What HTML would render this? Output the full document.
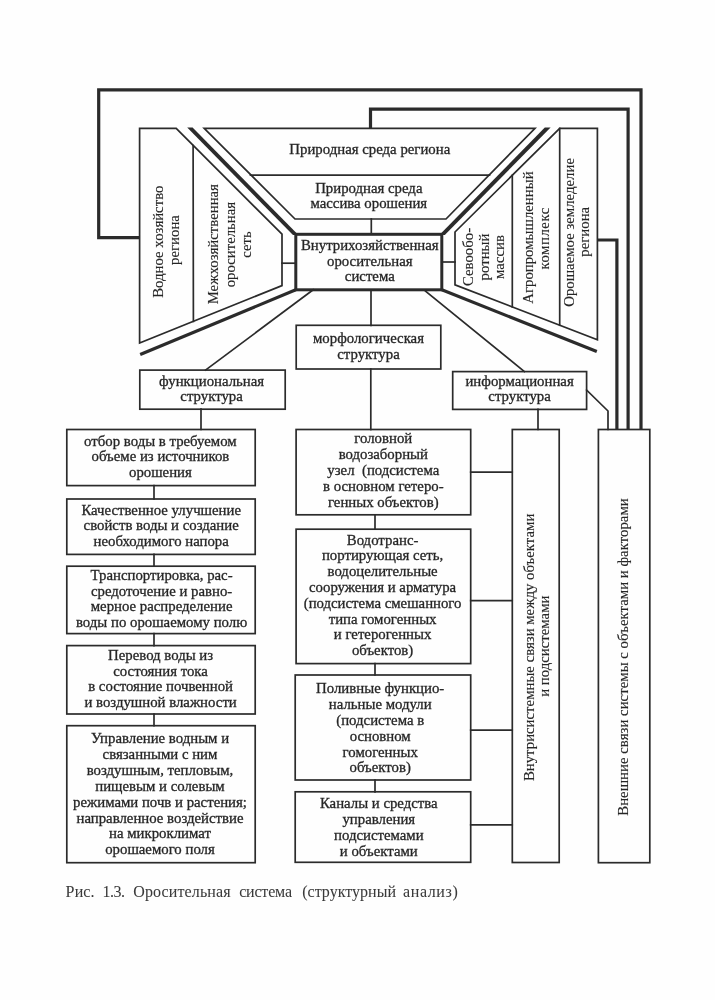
<!DOCTYPE html>
<html><head><meta charset="utf-8"><style>
html,body{margin:0;padding:0;background:#fefefe;}
body{width:715px;height:1000px;overflow:hidden;}
svg{display:block;filter:blur(0.3px);}
text{font-family:"Liberation Serif", serif;fill:#262626;stroke:#262626;stroke-width:0.3px;}
.v{stroke-width:0.12px;}
.cap{fill:#3a3a3a;stroke:#3a3a3a;stroke-width:0.05px;}
</style></head><body>
<svg width="715" height="1000" viewBox="0 0 715 1000">
<rect width="715" height="1000" fill="#fefefe"/>
<polyline points="139.2,237.7 98.7,237.7 98.7,89.9 641,89.9 641,429.5" fill="none" stroke="#2b2b2b" stroke-width="3.2" stroke-linejoin="miter" stroke-linecap="butt"/>
<polyline points="370.5,128 370.5,109.2 628.1,109.2 628.1,429.5" fill="none" stroke="#2b2b2b" stroke-width="3.2" stroke-linejoin="miter" stroke-linecap="butt"/>
<polyline points="597.0,240 616.9,240 616.9,429.5" fill="none" stroke="#2b2b2b" stroke-width="3.2" stroke-linejoin="miter" stroke-linecap="butt"/>
<polygon points="204.2,128.3 535,128.3 446,219 295,219" fill="none" stroke="#2b2b2b" stroke-width="1.7" stroke-linejoin="miter"/>
<polyline points="250.5,175.2 489.5,175.2" fill="none" stroke="#2b2b2b" stroke-width="1.7" stroke-linejoin="miter" stroke-linecap="square"/>
<polyline points="371.3,219 371.3,234" fill="none" stroke="#2b2b2b" stroke-width="1.7" stroke-linejoin="miter" stroke-linecap="square"/>
<polygon points="187.2,127.6 192.6,127.6 298.4,235 293,235" fill="#2b2b2b"/>
<polygon points="544.8,127.6 550.6,127.6 444.8,235 439.4,235" fill="#2b2b2b"/>
<polyline points="295.8,289.8 140.2,354.6" fill="none" stroke="#2b2b2b" stroke-width="3.2" stroke-linejoin="miter" stroke-linecap="butt"/>
<polyline points="441.8,289.8 596.8,351.6" fill="none" stroke="#2b2b2b" stroke-width="3.2" stroke-linejoin="miter" stroke-linecap="butt"/>
<rect x="295.8" y="234.3" width="146.00" height="55.50" fill="none" stroke="#2b2b2b" stroke-width="3"/>
<text x="369.8" y="250.1" font-size="14.8" text-anchor="middle">Внутрихозяйственная</text>
<text x="369.8" y="265.6" font-size="14.8" text-anchor="middle">оросительная</text>
<text x="369.8" y="281.1" font-size="14.8" text-anchor="middle">система</text>
<polygon points="139.6,128.4 176.2,128.4 282,234.2 282,285.6 139.6,343" fill="none" stroke="#2b2b2b" stroke-width="1.7" stroke-linejoin="miter"/>
<polyline points="193.1,145.6 193.4,321.3" fill="none" stroke="#2b2b2b" stroke-width="1.7" stroke-linejoin="miter" stroke-linecap="square"/>
<polyline points="282,263.2 295.8,263.2" fill="none" stroke="#2b2b2b" stroke-width="1.7" stroke-linejoin="miter" stroke-linecap="square"/>
<text transform="translate(162.8,241.7) rotate(-90)" font-size="14.8" text-anchor="middle" class="v">Водное хозяйство</text>
<text transform="translate(179,240) rotate(-90)" font-size="14.8" text-anchor="middle" class="v">региона</text>
<text transform="translate(218,244.2) rotate(-90)" font-size="14.8" text-anchor="middle" class="v">Межхозяйственная</text>
<text transform="translate(234.5,244.6) rotate(-90)" font-size="14.8" text-anchor="middle" class="v">оросительная</text>
<text transform="translate(250.8,244.6) rotate(-90)" font-size="14.8" text-anchor="middle" class="v">сеть</text>
<polygon points="559.7,128.4 597.4,128.4 597.4,339.8 455,284.8 455,232" fill="none" stroke="#2b2b2b" stroke-width="1.7" stroke-linejoin="miter"/>
<polyline points="512.3,175.3 512.3,306.9" fill="none" stroke="#2b2b2b" stroke-width="1.7" stroke-linejoin="miter" stroke-linecap="square"/>
<polyline points="559.7,128.4 559.7,325.2" fill="none" stroke="#2b2b2b" stroke-width="1.7" stroke-linejoin="miter" stroke-linecap="square"/>
<polyline points="441.8,262 455,262" fill="none" stroke="#2b2b2b" stroke-width="1.7" stroke-linejoin="miter" stroke-linecap="square"/>
<text transform="translate(473,257) rotate(-90)" font-size="14.8" text-anchor="middle" class="v">Севообо-</text>
<text transform="translate(488.6,257) rotate(-90)" font-size="14.8" text-anchor="middle" class="v">ротный</text>
<text transform="translate(504.3,257) rotate(-90)" font-size="14.8" text-anchor="middle" class="v">массив</text>
<text transform="translate(533,237.6) rotate(-90)" font-size="14.8" text-anchor="middle" class="v">Агропромышленный</text>
<text transform="translate(548.6,238.6) rotate(-90)" font-size="14.8" text-anchor="middle" class="v" textLength="62" lengthAdjust="spacing">комплекс</text>
<text transform="translate(574.3,232.4) rotate(-90)" font-size="14.8" text-anchor="middle" class="v">Орошаемое земледелие</text>
<text transform="translate(588.6,231.8) rotate(-90)" font-size="14.8" text-anchor="middle" class="v">региона</text>
<text x="369.8" y="154.3" font-size="14.8" text-anchor="middle">Природная среда региона</text>
<text x="368.8" y="193.2" font-size="14.8" text-anchor="middle">Природная среда</text>
<text x="368.8" y="207.8" font-size="14.8" text-anchor="middle">массива орошения</text>
<polyline points="371,289.8 371,325.3" fill="none" stroke="#2b2b2b" stroke-width="1.7" stroke-linejoin="miter" stroke-linecap="square"/>
<rect x="296.2" y="325.3" width="144.60" height="43.70" fill="none" stroke="#2b2b2b" stroke-width="1.7"/>
<text x="368.5" y="343.0" font-size="14.8" text-anchor="middle">морфологическая</text>
<text x="368.5" y="358.5" font-size="14.8" text-anchor="middle">структура</text>
<polyline points="313.2,289.8 205.5,370.1" fill="none" stroke="#2b2b2b" stroke-width="1.7" stroke-linejoin="miter" stroke-linecap="square"/>
<rect x="139.8" y="370.1" width="145.40" height="39.10" fill="none" stroke="#2b2b2b" stroke-width="1.7"/>
<text x="211.6" y="385.8" font-size="14.8" text-anchor="middle">функциональная</text>
<text x="211.6" y="401.1" font-size="14.8" text-anchor="middle">структура</text>
<polyline points="425.5,291.2 524.4,371.6" fill="none" stroke="#2b2b2b" stroke-width="1.7" stroke-linejoin="miter" stroke-linecap="square"/>
<rect x="452.7" y="371.6" width="133.90" height="37.80" fill="none" stroke="#2b2b2b" stroke-width="1.7"/>
<text x="519.6" y="385.9" font-size="14.8" text-anchor="middle">информационная</text>
<text x="519.6" y="400.9" font-size="14.8" text-anchor="middle">структура</text>
<polyline points="201,409.2 201,429.5" fill="none" stroke="#2b2b2b" stroke-width="1.7" stroke-linejoin="miter" stroke-linecap="square"/>
<rect x="66.8" y="429.5" width="188.40" height="56.10" fill="none" stroke="#2b2b2b" stroke-width="1.7"/>
<text x="160.4" y="446.0" font-size="14.8" text-anchor="middle">отбор воды в требуемом</text>
<text x="160.4" y="461.25" font-size="14.8" text-anchor="middle">объеме из источников</text>
<text x="160.4" y="476.5" font-size="14.8" text-anchor="middle">орошения</text>
<rect x="66.8" y="499" width="188.40" height="55.40" fill="none" stroke="#2b2b2b" stroke-width="1.7"/>
<text x="161.2" y="514.8" font-size="14.8" text-anchor="middle">Качественное улучшение</text>
<text x="161.2" y="530.2" font-size="14.8" text-anchor="middle">свойств воды и создание</text>
<text x="161.2" y="545.6" font-size="14.8" text-anchor="middle">необходимого напора</text>
<polyline points="154,485.6 154,499" fill="none" stroke="#2b2b2b" stroke-width="1.7" stroke-linejoin="miter" stroke-linecap="square"/>
<rect x="66.8" y="566.2" width="188.40" height="67.40" fill="none" stroke="#2b2b2b" stroke-width="1.7"/>
<text x="161.6" y="580.1" font-size="14.8" text-anchor="middle">Транспортировка, рас-</text>
<text x="161.6" y="595.77" font-size="14.8" text-anchor="middle">средоточение и равно-</text>
<text x="161.6" y="611.44" font-size="14.8" text-anchor="middle">мерное распределение</text>
<text x="161.6" y="627.11" font-size="14.8" text-anchor="middle">воды по орошаемому полю</text>
<polyline points="154,554.4 154,566.2" fill="none" stroke="#2b2b2b" stroke-width="1.7" stroke-linejoin="miter" stroke-linecap="square"/>
<rect x="66.8" y="645.6" width="188.40" height="68.40" fill="none" stroke="#2b2b2b" stroke-width="1.7"/>
<text x="160.6" y="660.2" font-size="14.8" text-anchor="middle">Перевод воды из</text>
<text x="160.6" y="675.65" font-size="14.8" text-anchor="middle">состояния тока</text>
<text x="160.6" y="691.1" font-size="14.8" text-anchor="middle">в состояние почвенной</text>
<text x="160.6" y="706.55" font-size="14.8" text-anchor="middle">и воздушной влажности</text>
<polyline points="154,633.6 154,645.6" fill="none" stroke="#2b2b2b" stroke-width="1.7" stroke-linejoin="miter" stroke-linecap="square"/>
<rect x="66.8" y="725.7" width="188.40" height="137.00" fill="none" stroke="#2b2b2b" stroke-width="1.7"/>
<text x="160.0" y="742.9" font-size="14.8" text-anchor="middle">Управление водным и</text>
<text x="160.0" y="758.82" font-size="14.8" text-anchor="middle">связанными с ним</text>
<text x="160.0" y="774.74" font-size="14.8" text-anchor="middle">воздушным, тепловым,</text>
<text x="160.0" y="790.66" font-size="14.8" text-anchor="middle">пищевым и солевым</text>
<text x="160.0" y="806.58" font-size="14.8" text-anchor="middle">режимами почв и растения;</text>
<text x="160.0" y="822.5" font-size="14.8" text-anchor="middle">направленное воздействие</text>
<text x="160.0" y="838.42" font-size="14.8" text-anchor="middle">на микроклимат</text>
<text x="160.0" y="854.34" font-size="14.8" text-anchor="middle">орошаемого поля</text>
<polyline points="154,714 154,725.7" fill="none" stroke="#2b2b2b" stroke-width="1.7" stroke-linejoin="miter" stroke-linecap="square"/>
<polyline points="370.8,369 370.8,429.5" fill="none" stroke="#2b2b2b" stroke-width="1.7" stroke-linejoin="miter" stroke-linecap="square"/>
<rect x="296.1" y="429.5" width="174.60" height="85.30" fill="none" stroke="#2b2b2b" stroke-width="1.7"/>
<text x="383.3" y="443.3" font-size="14.8" text-anchor="middle">головной</text>
<text x="383.3" y="459.2" font-size="14.8" text-anchor="middle">водозаборный</text>
<text x="383.3" y="475.1" font-size="14.8" text-anchor="middle">узел&#160; (подсистема</text>
<text x="383.3" y="491.0" font-size="14.8" text-anchor="middle">в основном гетеро-</text>
<text x="383.3" y="506.9" font-size="14.8" text-anchor="middle">генных объектов)</text>
<rect x="296.1" y="529.2" width="174.60" height="134.40" fill="none" stroke="#2b2b2b" stroke-width="1.7"/>
<text x="382.6" y="544.5" font-size="14.8" text-anchor="middle">Водотранс-</text>
<text x="382.6" y="560.3" font-size="14.8" text-anchor="middle">портирующая сеть,</text>
<text x="382.6" y="576.1" font-size="14.8" text-anchor="middle">водоцелительные</text>
<text x="382.6" y="591.9" font-size="14.8" text-anchor="middle">сооружения и арматура</text>
<text x="382.6" y="607.7" font-size="14.8" text-anchor="middle">(подсистема смешанного</text>
<text x="382.6" y="623.5" font-size="14.8" text-anchor="middle">типа гомогенных</text>
<text x="382.6" y="639.3" font-size="14.8" text-anchor="middle">и гетерогенных</text>
<text x="382.6" y="655.1" font-size="14.8" text-anchor="middle">объектов)</text>
<polyline points="375,514.8 375,529.2" fill="none" stroke="#2b2b2b" stroke-width="1.7" stroke-linejoin="miter" stroke-linecap="square"/>
<rect x="295.2" y="675" width="175.50" height="105.00" fill="none" stroke="#2b2b2b" stroke-width="1.7"/>
<text x="380.2" y="693.4" font-size="14.8" text-anchor="middle">Поливные функцио-</text>
<text x="380.2" y="709.2" font-size="14.8" text-anchor="middle">нальные модули</text>
<text x="380.2" y="725.0" font-size="14.8" text-anchor="middle">(подсистема в</text>
<text x="380.2" y="740.8" font-size="14.8" text-anchor="middle">основном</text>
<text x="380.2" y="756.6" font-size="14.8" text-anchor="middle">гомогенных</text>
<text x="380.2" y="772.4" font-size="14.8" text-anchor="middle">объектов)</text>
<polyline points="375,663.6 375,675" fill="none" stroke="#2b2b2b" stroke-width="1.7" stroke-linejoin="miter" stroke-linecap="square"/>
<rect x="295.2" y="791.8" width="175.50" height="70.50" fill="none" stroke="#2b2b2b" stroke-width="1.7"/>
<text x="378.8" y="808.2" font-size="14.8" text-anchor="middle">Каналы и средства</text>
<text x="378.8" y="824.15" font-size="14.8" text-anchor="middle">управления</text>
<text x="378.8" y="840.1" font-size="14.8" text-anchor="middle">подсистемами</text>
<text x="378.8" y="856.05" font-size="14.8" text-anchor="middle">и объектами</text>
<polyline points="375,780 375,791.8" fill="none" stroke="#2b2b2b" stroke-width="1.7" stroke-linejoin="miter" stroke-linecap="square"/>
<polyline points="470.7,472.2 512.2,472.2" fill="none" stroke="#2b2b2b" stroke-width="1.7" stroke-linejoin="miter" stroke-linecap="square"/>
<polyline points="470.7,600.7 512.2,600.7" fill="none" stroke="#2b2b2b" stroke-width="1.7" stroke-linejoin="miter" stroke-linecap="square"/>
<polyline points="470.7,730.1 512.2,730.1" fill="none" stroke="#2b2b2b" stroke-width="1.7" stroke-linejoin="miter" stroke-linecap="square"/>
<polyline points="470.7,824.8 512.2,824.8" fill="none" stroke="#2b2b2b" stroke-width="1.7" stroke-linejoin="miter" stroke-linecap="square"/>
<polyline points="538,409.4 538,429.5" fill="none" stroke="#2b2b2b" stroke-width="1.7" stroke-linejoin="miter" stroke-linecap="square"/>
<polyline points="586.6,390.1 608,411 608,429.5" fill="none" stroke="#2b2b2b" stroke-width="1.7" stroke-linejoin="miter" stroke-linecap="square"/>
<rect x="512.3" y="429.5" width="46.90" height="433.00" fill="none" stroke="#2b2b2b" stroke-width="1.7"/>
<rect x="598.4" y="429.5" width="51.40" height="433.20" fill="none" stroke="#2b2b2b" stroke-width="1.7"/>
<text transform="translate(534,647.4) rotate(-90)" font-size="14.8" text-anchor="middle" class="v">Внутрисистемные связи между объектами</text>
<text transform="translate(549,646.2) rotate(-90)" font-size="14.8" text-anchor="middle" class="v">и подсистемами</text>
<text transform="translate(628.2,657) rotate(-90)" font-size="14.8" text-anchor="middle" class="v" textLength="317.5" lengthAdjust="spacing">Внешние связи системы с объектами и факторами</text>
<text x="65.6" y="896.6" font-size="16" textLength="29.0" lengthAdjust="spacing" class="cap">Рис.</text>
<text x="102.4" y="896.6" font-size="16" textLength="22.6" lengthAdjust="spacing" class="cap">1.3.</text>
<text x="133.3" y="896.6" font-size="16" textLength="97.3" lengthAdjust="spacing" class="cap">Оросительная</text>
<text x="239.2" y="896.6" font-size="16" textLength="52.8" lengthAdjust="spacing" class="cap">система</text>
<text x="302.2" y="896.6" font-size="16" textLength="93.8" lengthAdjust="spacing" class="cap">(структурный</text>
<text x="403" y="896.6" font-size="16" textLength="54.8" lengthAdjust="spacing" class="cap">анализ)</text>
</svg>
</body></html>
